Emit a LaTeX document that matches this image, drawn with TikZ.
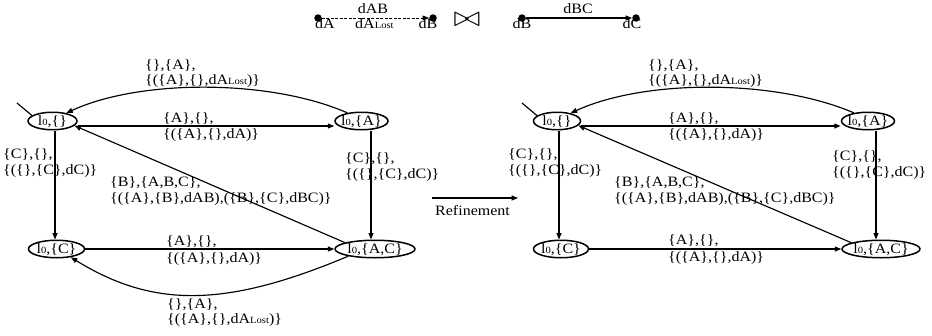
\documentclass[tikz,border=0pt]{standalone}
\usepackage{fontspec}
\setmainfont{Liberation Serif}[FakeStretch=1.12]
\usetikzlibrary{arrows.meta,shapes.geometric}
\newcommand\smt[1]{{\fontsize{9.5}{10}\selectfont #1}}
\newcommand\lz{l\smt{0}}
\newcommand\stx[1]{\makebox[0pt]{\smash{\raisebox{-4.5pt}{#1}}}}
\begin{document}
\begin{tikzpicture}[x=1pt,y=-1pt,
  every node/.style={font=\fontsize{14.3}{16}\selectfont, inner sep=0pt},
  st/.style={ellipse, draw, line width=1.5pt, minimum height=17.5pt, inner sep=0pt},
  lab/.style={anchor=base west, align=left},
  edge/.style={line width=1.15pt, -{Triangle[length=6.5pt,width=5pt]}},
  dot/.style={circle, fill, minimum size=7.5pt, inner sep=0pt},
  initl/.style={line width=1.15pt}]
\useasboundingbox (0,0) rectangle (932,335);

% header
\node[dot] (p1) at (318,18) {};
\node[dot] (p2) at (433,18) {};
\node[dot] (p3) at (522,18) {};
\node[dot] (p4) at (636,18) {};
\draw[edge, line width=0.9pt, dash pattern=on 3pt off 1.5pt] (p1) -- (p2);
\draw[edge] (p3) -- (p4);
\node[anchor=base] (h1) at (373,13) {dAB};
\node[anchor=base] (h2) at (325,28) {dA};
\node[anchor=base west] (h3) at (355,28) {dA\smt{Lost}};
\node[anchor=base] (h4) at (428,28) {dB};
\node (bow) at (467,20) {\scalebox{2.3}[2.0]{$\bowtie$}};
\node[anchor=base] (h5) at (578,13) {dBC};
\node[anchor=base] (h6) at (522,28) {dB};
\node[anchor=base] (h7) at (632,28) {dC};

% refinement
\coordinate (rf0) at (432,198);
\coordinate (rf1) at (518,198);
\draw[edge] (rf0) -- (rf1);
\node[anchor=base west] (rft) at (435,215) {Refinement};

% left automaton
\node[st, minimum width=49pt] (a1) at (52.5,121) {\stx{\lz,\{\}}};
\node[st, minimum width=53pt] (a2) at (361.5,121) {\stx{\lz,\{A\}}};
\node[st, minimum width=56pt] (a3) at (56.5,249) {\stx{\lz,\{C\}}};
\node[st, minimum width=80pt] (a4) at (375,249) {\stx{\lz,\{A,C\}}};
\coordinate (ai) at (17,103);
\draw[initl] (ai) -- (a1.165);
\draw[edge] ([yshift=-5pt]a1.east) -- ([yshift=-5pt]a2.west);
\draw[edge] (a2.150) .. controls (270,79) and (140,79) .. (a1.30);
\draw[edge] (a4.168) -- (a1.-12);
\draw[edge] ([xshift=2.5pt]a1.south) -- ([xshift=-1.5pt]a3.north);
\draw[edge] ([xshift=9.5pt]a2.south) -- ([xshift=-4pt]a4.north);
\draw[edge] (a3.east) -- (a4.west);
\draw[edge] (a4.195) .. controls (225,308) and (153,308) .. (a3.-30);

\node[lab] (la1) at (145,84) {\{\},\{A\},\\[-1pt]\{(\{A\},\{\},dA\smt{Lost})\}};
\node[lab] (la2) at (163,138) {\{A\},\{\},\\\{(\{A\},\{\},dA)\}};
\node[lab] (la3) at (3,174) {\{C\},\{\},\\\{(\{\},\{C\},dC)\}};
\node[lab] (la4) at (345,178) {\{C\},\{\},\\\{(\{\},\{C\},dC)\}};
\node[lab] (la5) at (110,202) {\{B\},\{A,B,C\},\\\{(\{A\},\{B\},dAB),(\{B\},\{C\},dBC)\}};
\node[lab] (la6) at (166,262) {\{A\},\{\},\\[1pt]\{(\{A\},\{\},dA)\}};
\node[lab] (la7) at (167,323) {\{\},\{A\},\\[-1pt]\{(\{A\},\{\},dA\smt{Lost})\}};

% right automaton
\node[st, minimum width=47pt] (b1) at (557,121) {\stx{\lz,\{\}}};
\node[st, minimum width=53pt] (b2) at (868,121) {\stx{\lz,\{A\}}};
\node[st, minimum width=55pt] (b3) at (561,249) {\stx{\lz,\{C\}}};
\node[st, minimum width=78pt] (b4) at (881,249) {\stx{\lz,\{A,C\}}};
\coordinate (bi) at (522,103);
\draw[initl] (bi) -- (b1.165);
\draw[edge] ([yshift=-5pt]b1.east) -- ([yshift=-5pt]b2.west);
\draw[edge] (b2.150) .. controls (775,79) and (645,79) .. (b1.30);
\draw[edge] (b4.168) -- (b1.-12);
\draw[edge] ([xshift=2pt]b1.south) -- ([xshift=-2pt]b3.north);
\draw[edge] ([xshift=8pt]b2.south) -- ([xshift=-5pt]b4.north);
\draw[edge] (b3.east) -- (b4.west);

\node[lab] (lb1) at (648,84) {\{\},\{A\},\\[-1pt]\{(\{A\},\{\},dA\smt{Lost})\}};
\node[lab] (lb2) at (668,138) {\{A\},\{\},\\\{(\{A\},\{\},dA)\}};
\node[lab] (lb3) at (508,174) {\{C\},\{\},\\\{(\{\},\{C\},dC)\}};
\node[lab] (lb4) at (832,176) {\{C\},\{\},\\\{(\{\},\{C\},dC)\}};
\node[lab] (lb5) at (614,202) {\{B\},\{A,B,C\},\\\{(\{A\},\{B\},dAB),(\{B\},\{C\},dBC)\}};
\node[lab] (lb6) at (668,261) {\{A\},\{\},\\[1pt]\{(\{A\},\{\},dA)\}};
\end{tikzpicture}
\end{document}
